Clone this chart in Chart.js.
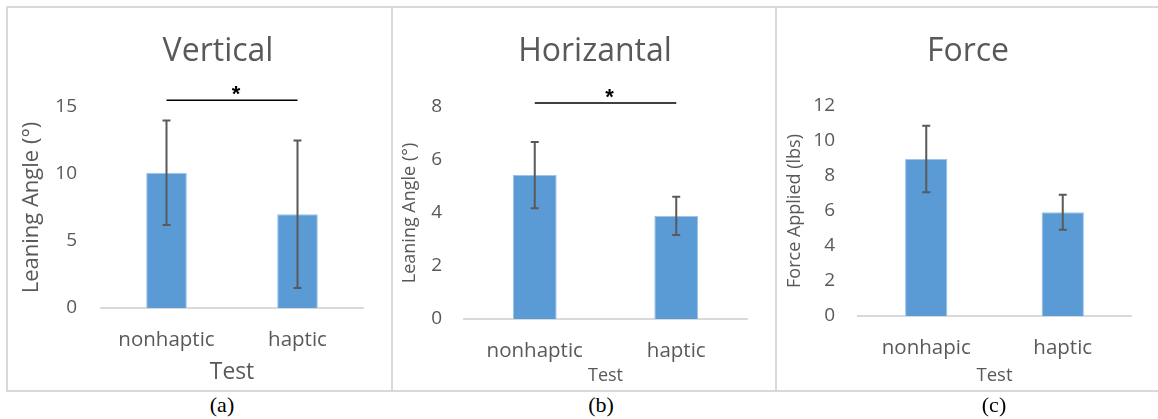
<!DOCTYPE html>
<html><head><meta charset="utf-8">
<script src="https://cdn.jsdelivr.net/npm/chart.js@4/dist/chart.umd.min.js"></script>
<style>
html,body{margin:0;padding:0;background:#fff;width:1158px;height:419px;overflow:hidden;position:relative;}
.ln{position:absolute;background:#D9D9D9;}
canvas{position:absolute;}
.cap{position:absolute;font-family:"Liberation Serif","Times New Roman",serif;font-size:22px;color:#000;transform:translateX(-50%);top:392px;line-height:26px;}
</style></head><body>
<div class="ln" style="left:6px;top:6px;width:1152px;height:2px"></div>
<div class="ln" style="left:6px;top:390px;width:1152px;height:2px"></div>
<div class="ln" style="left:6px;top:6px;width:2px;height:386px"></div>
<div class="ln" style="left:391px;top:6px;width:2px;height:386px"></div>
<div class="ln" style="left:775px;top:6px;width:2px;height:386px"></div>
<canvas id="cA" width="420" height="383" style="left:8px;top:8px"></canvas>
<canvas id="cB" width="404" height="383" style="left:393px;top:8px"></canvas>
<canvas id="cC" width="382" height="383" style="left:777px;top:8px"></canvas>
<div class="cap" style="left:222px">(a)</div>
<div class="cap" style="left:601px">(b)</div>
<div class="cap" style="left:994px">(c)</div>
<script>
// ---- data ----
const categoriesVertical = ['nonhaptic', 'haptic'];
const categoriesHorizontal = ['nonhaptic', 'haptic'];
const categoriesForce = ['nonhapic', 'haptic'];
const verticalMeans = [10.1, 7.0];
const verticalErrors = [3.9, 5.5];
const horizontalMeans = [5.43, 3.89];
const horizontalErrors = [1.25, 0.72];
const forceMeans = [8.97, 5.93];
const forceErrors = [1.9, 1.0];
const verticalTicks = [0, 5, 10, 15];
const horizontalTicks = [0, 2, 4, 6, 8];
const forceTicks = [0, 2, 4, 6, 8, 10, 12];
const verticalSigLevel = 15.5;
const horizontalSigLevel = 8.15;

Chart.defaults.font.family = '"Open Sans", sans-serif';
Chart.defaults.color = '#595959';

const errorBarPlugin = {
  id: 'errorBars',
  afterDatasetsDraw(chart) {
    const ctx = chart.ctx, x = chart.scales.x, y = chart.scales.y;
    const ds = chart.data.datasets[0];
    ctx.save();
    ctx.strokeStyle = '#595959';
    ctx.lineWidth = 2;
    ds.data.forEach((m, i) => {
      const px = x.getPixelForValue(i);
      const top = y.getPixelForValue(m + ds.errors[i]);
      const bot = y.getPixelForValue(m - ds.errors[i]);
      ctx.beginPath();
      ctx.moveTo(px, top); ctx.lineTo(px, bot);
      ctx.moveTo(px - 4, top); ctx.lineTo(px + 4, top);
      ctx.moveTo(px - 4, bot); ctx.lineTo(px + 4, bot);
      ctx.stroke();
    });
    if (ds.sigLevel != null) {
      const x0 = x.getPixelForValue(0), x1 = x.getPixelForValue(1);
      const py = y.getPixelForValue(ds.sigLevel);
      ctx.strokeStyle = '#000';
      ctx.lineWidth = 1.5;
      ctx.beginPath(); ctx.moveTo(x0, py); ctx.lineTo(x1, py); ctx.stroke();
      ctx.fillStyle = '#000';
      ctx.font = 'bold 22px "Liberation Sans", Arial, sans-serif';
      ctx.textAlign = 'center';
      ctx.textBaseline = 'alphabetic';
      ctx.fillText('*', (x0 + x1) / 2 + 4, py + 1);
    }
    ctx.restore();
  }
};

function makeChart(id, p) {
  return new Chart(document.getElementById(id), {
    type: 'bar',
    data: {
      labels: p.labels,
      datasets: [{
        data: p.means,
        errors: p.errors,
        sigLevel: p.sigLevel,
        backgroundColor: '#5B9BD5',
        borderColor: '#9DC3E6',
        borderWidth: 1,
        categoryPercentage: 1,
        barPercentage: 0.31
      }]
    },
    options: {
      responsive: false,
      animation: false,
      layout: { padding: 0 },
      plugins: {
        legend: { display: false },
        tooltip: { enabled: false },
        title: {
          display: true, text: p.title, color: '#595959',
          font: { size: 32, weight: 'normal' },
          padding: { top: 24.8, bottom: p.titleBottom }
        }
      },
      scales: {
        x: {
          grid: { display: false, drawTicks: false },
          border: { display: true, color: '#D9D9D9', width: 2 },
          ticks: { font: { size: 20.5 }, padding: 19.7, color: '#595959', maxRotation: 0 },
          title: { display: true, text: 'Test', font: { size: p.xTitleSize }, padding: { top: 0, bottom: p.xTitlePad }, color: '#595959' },
          afterFit: s => { s.height = p.xHeight; }
        },
        y: {
          min: p.ticks[0], max: p.ticks[p.ticks.length - 1],
          grid: { display: false, drawTicks: false },
          border: { display: false },
          ticks: { stepSize: p.ticks[1] - p.ticks[0], font: { size: 19 }, padding: p.tickPad, color: '#595959' },
          title: { display: true, text: p.yTitle, font: { size: p.yTitleSize }, padding: { top: p.yTitlePad, bottom: 0 }, color: '#595959' },
          afterFit: s => { s.width = p.yWidth; }
        },
        spacer: {
          position: 'right',
          grid: { display: false, drawTicks: false },
          border: { display: false },
          ticks: { display: false },
          afterFit: s => { s.width = p.rightSpace; }
        }
      }
    },
    plugins: [errorBarPlugin]
  });
}

makeChart('cA', {
  labels: categoriesVertical, means: verticalMeans, errors: verticalErrors, ticks: verticalTicks,
  sigLevel: verticalSigLevel, title: 'Vertical', titleBottom: 35.8, yTitle: 'Leaning Angle (°)',
  yTitleSize: 22, yTitlePad: 10.8, xTitleSize: 22.8, xTitlePad: 5.3, yWidth: 93, xHeight: 83,
  tickPad: 24, rightSpace: 65
});
makeChart('cB', {
  labels: categoriesHorizontal, means: horizontalMeans, errors: horizontalErrors, ticks: horizontalTicks,
  sigLevel: horizontalSigLevel, title: 'Horizantal', titleBottom: 35.8, yTitle: 'Leaning Angle (°)',
  yTitleSize: 18, yTitlePad: 6.2, xTitleSize: 18, xTitlePad: 4.2, yWidth: 71, xHeight: 72,
  tickPad: 22, rightSpace: 50
});
makeChart('cC', {
  labels: categoriesForce, means: forceMeans, errors: forceErrors, ticks: forceTicks,
  sigLevel: null, title: 'Force', titleBottom: 34.8, yTitle: 'Force Applied (lbs)',
  yTitleSize: 18, yTitlePad: 7.2, xTitleSize: 18.5, xTitlePad: 4.2, yWidth: 81, xHeight: 75,
  tickPad: 23, rightSpace: 28
});
</script>
</body></html>
